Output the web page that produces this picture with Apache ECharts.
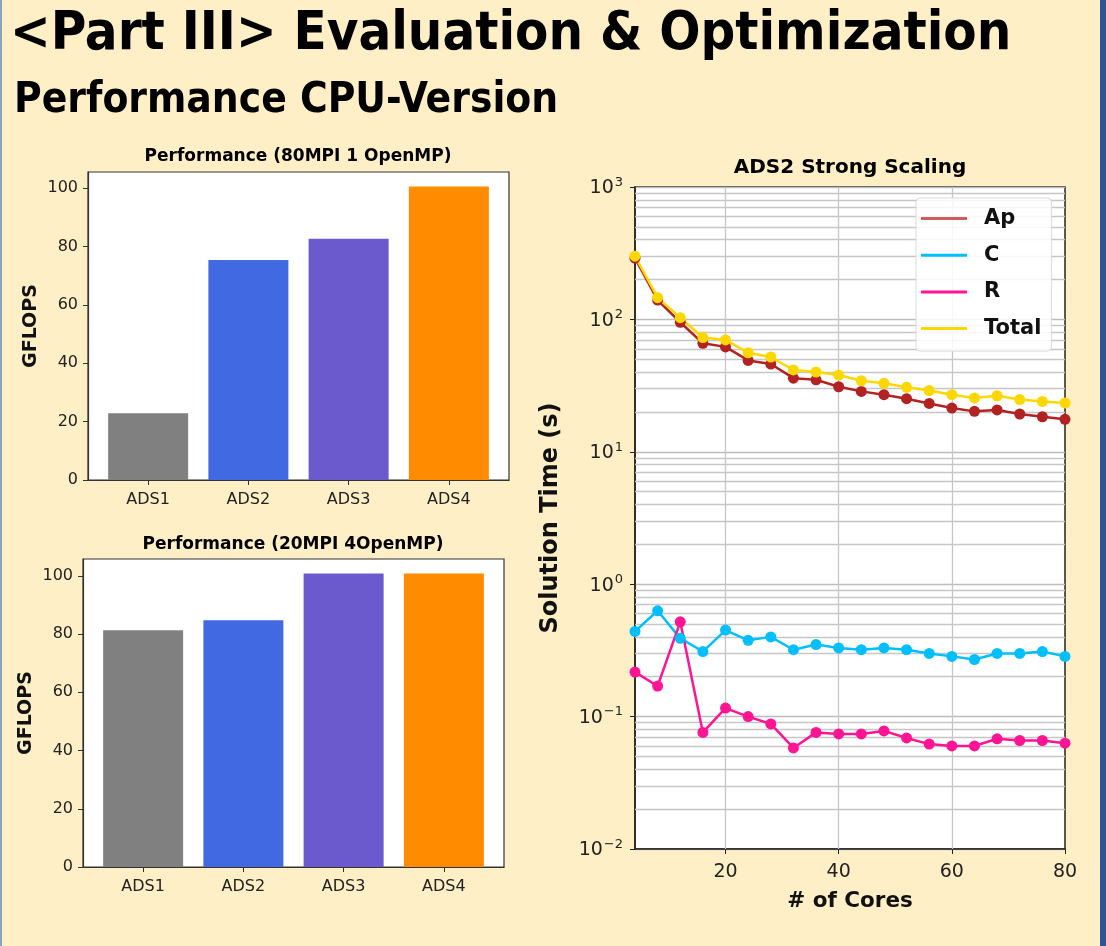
<!DOCTYPE html>
<html>
<head>
<meta charset="utf-8">
<title>Performance CPU-Version</title>
<script src="https://cdn.jsdelivr.net/npm/echarts@6/dist/echarts.min.js"></script>
<style>
  html, body { margin: 0; padding: 0; background: #FFEFC6; }
  #slide { position: relative; width: 1106px; height: 946px; background: #FFEFC6; overflow: hidden; }
  #chart { position: absolute; left: 0; top: 0; width: 1106px; height: 946px; }
  #edgeL { position: absolute; left: 0; top: 0; width: 2px; height: 946px; background: #8EA0BE; }
  #edgeR { position: absolute; right: 0; top: 0; width: 6px; height: 946px; background: #2F5597; }
</style>
</head>
<body>
<div id="slide">
  <div id="chart"></div>
  <div id="edgeL"></div>
  <div id="edgeR"></div>
</div>
<script>
// bar charts
const datasets = ['ADS1', 'ADS2', 'ADS3', 'ADS4'];
const gflops80x1 = [22.9, 75.4, 82.7, 100.6];
const gflops20x4 = [81.3, 84.8, 100.8, 100.8];
const gflopsTicks = [0, 20, 40, 60, 80, 100];
const barColors = ['#808080', '#4169e1', '#6a5acd', '#ff8c00'];

// strong scaling (seconds)
const cores = [4, 8, 12, 16, 20, 24, 28, 32, 36, 40, 44, 48, 52, 56, 60, 64, 68, 72, 76, 80];
const timeAp = [290, 140, 95, 66, 62, 49, 46, 36, 35, 31, 28.6, 27, 25.2, 23.2, 21.4, 20.2, 20.7, 19.3, 18.4, 17.6];
const timeC = [0.44, 0.63, 0.39, 0.31, 0.45, 0.377, 0.40, 0.32, 0.35, 0.33, 0.32, 0.33, 0.32, 0.30, 0.285, 0.27, 0.30, 0.30, 0.31, 0.285];
const timeR = [0.217, 0.17, 0.52, 0.076, 0.116, 0.10, 0.088, 0.058, 0.076, 0.074, 0.074, 0.078, 0.069, 0.062, 0.060, 0.060, 0.068, 0.066, 0.066, 0.063];
const timeTotal = [300, 146, 103, 73, 70, 56, 52, 41.5, 40, 38, 34.4, 32.9, 30.7, 29, 27, 25.5, 26.5, 24.8, 24, 23.4];
const coreTicks = [20, 40, 60, 80];

const FONT = 'DejaVu Sans';
const TITLE_FONT = "'DejaVu Sans Condensed', 'DejaVu Sans'";

// minor log grid lines 2..9 x 10^k
const minorLines = [];
for (let k = -2; k <= 2; k++) {
  for (let m = 2; m <= 9; m++) minorLines.push({ yAxis: m * Math.pow(10, k) });
}

const supMinus = n => (n < 0 ? '\u2212' + (-n) : '' + n);

const myChart = echarts.init(document.getElementById('chart'));

function barXAxis(idx) {
  return {
    gridIndex: idx,
    type: 'value',
    min: -0.6,
    max: 3.6,
    axisLine: { show: true, onZero: false, lineStyle: { color: '#333', width: 1.2 } },
    axisTick: { show: true, customValues: [0, 1, 2, 3], length: 5, lineStyle: { color: '#333' } },
    axisLabel: {
      customValues: [0, 1, 2, 3],
      formatter: v => datasets[v],
      fontSize: 16, color: '#222', margin: 12, fontFamily: FONT
    },
    splitLine: { show: false }
  };
}

function barYAxis(idx, max) {
  return {
    gridIndex: idx,
    type: 'value',
    min: 0,
    max: max,
    name: 'GFLOPS',
    nameLocation: 'middle',
    nameRotate: 90,
    nameGap: 47,
    nameTextStyle: { fontSize: 19, fontWeight: 'bold', color: '#111', fontFamily: FONT },
    axisLine: { show: true, onZero: false, lineStyle: { color: '#333', width: 1.2 } },
    axisTick: { show: true, customValues: gflopsTicks, length: 5, lineStyle: { color: '#333' } },
    axisLabel: { customValues: gflopsTicks, fontSize: 16, color: '#222', margin: 10, fontFamily: FONT },
    splitLine: { show: false }
  };
}

function barSeries(idx, values) {
  return {
    type: 'bar',
    xAxisIndex: idx,
    yAxisIndex: idx,
    barWidth: 80,
    data: values.map((v, i) => ({ value: [i, v], itemStyle: { color: barColors[i] } }))
  };
}

function lineSeries(name, values, color, extra) {
  return Object.assign({
    name: name,
    type: 'line',
    xAxisIndex: 2,
    yAxisIndex: 2,
    data: cores.map((c, i) => [c, values[i]]),
    symbol: 'circle',
    symbolSize: 11,
    showAllSymbol: true,
    lineStyle: { width: 2.5, color: color },
    itemStyle: { color: color }
  }, extra || {});
}

const titleStyle = { fontSize: 17, fontWeight: 'bold', color: '#000', fontFamily: FONT };

var option = {
  animation: false,
  backgroundColor: '#FFEFC6',
  title: [
    { text: '<Part III> Evaluation & Optimization', left: 10, top: 8, padding: 0,
      textStyle: { fontSize: 54, fontWeight: 'bold', color: '#000', fontFamily: TITLE_FONT } },
    { text: 'Performance CPU-Version', left: 14, top: 80, padding: 0,
      textStyle: { fontSize: 42, fontWeight: 'bold', color: '#000', fontFamily: TITLE_FONT } },
    { text: 'Performance (80MPI 1 OpenMP)', left: 298, top: 148, textAlign: 'center', padding: 0, textStyle: titleStyle },
    { text: 'Performance (20MPI 4OpenMP)', left: 293, top: 536, textAlign: 'center', padding: 0, textStyle: titleStyle },
    { text: 'ADS2 Strong Scaling', left: 850, top: 158, textAlign: 'center', padding: 0,
      textStyle: { fontSize: 20, fontWeight: 'bold', color: '#000', fontFamily: FONT } }
  ],
  legend: {
    orient: 'vertical',
    left: 916,
    top: 198,
    data: [{ name: 'Ap', itemStyle: { color: '#cd5c5c' } }, 'C', 'R', 'Total'],
    icon: 'rect',
    itemWidth: 46,
    itemHeight: 3,
    itemGap: 15.7,
    textStyle: { fontSize: 21, fontWeight: 'bold', color: '#111', fontFamily: FONT, padding: [0, 0, 0, 12] },
    backgroundColor: 'rgba(255,255,255,0.85)',
    borderColor: '#d9d9d9',
    borderWidth: 1,
    borderRadius: 4,
    padding: [10, 10, 12, 5]
  },
  grid: [
    { left: 88, top: 172, width: 421, height: 308, show: true, backgroundColor: '#fff', borderColor: '#333', borderWidth: 1.2 },
    { left: 83, top: 559, width: 421, height: 308, show: true, backgroundColor: '#fff', borderColor: '#333', borderWidth: 1.2 },
    { left: 635, top: 187, width: 430, height: 662, show: true, backgroundColor: '#fff', borderColor: '#222', borderWidth: 1.5 }
  ],
  xAxis: [
    barXAxis(0),
    barXAxis(1),
    {
      gridIndex: 2,
      type: 'value',
      min: 4,
      max: 80,
      name: '# of Cores',
      nameLocation: 'middle',
      nameGap: 41,
      nameTextStyle: { fontSize: 21.5, fontWeight: 'bold', color: '#111', fontFamily: FONT },
      axisLine: { show: true, onZero: false, lineStyle: { color: '#222', width: 1.5 } },
      axisTick: { show: true, customValues: coreTicks, length: 5, lineStyle: { color: '#222' } },
      axisLabel: { customValues: coreTicks, fontSize: 19, color: '#222', margin: 14, fontFamily: FONT },
      splitLine: { show: false }
    }
  ],
  yAxis: [
    barYAxis(0, 105.6),
    barYAxis(1, 105.8),
    {
      gridIndex: 2,
      type: 'log',
      logBase: 10,
      min: 0.01,
      max: 1000,
      name: 'Solution Time (s)',
      nameLocation: 'middle',
      nameRotate: 90,
      nameGap: 72,
      nameTextStyle: { fontSize: 24, fontWeight: 'bold', color: '#111', fontFamily: FONT },
      axisLine: { show: true, onZero: false, lineStyle: { color: '#222', width: 1.5 } },
      axisTick: { show: true, length: 5, lineStyle: { color: '#222' } },
      axisLabel: {
        margin: 12,
        formatter: v => '{b|10}{e|' + supMinus(Math.round(Math.log10(v))) + '}',
        rich: {
          b: { fontSize: 19, color: '#222', fontFamily: FONT, verticalAlign: 'bottom', lineHeight: 22 },
          e: { fontSize: 13, color: '#222', fontFamily: FONT, verticalAlign: 'top', lineHeight: 13, padding: [0, 0, 13, 1] }
        }
      },
      splitLine: { show: true, lineStyle: { color: '#bdbdbd', width: 1.3 } }
    }
  ],
  series: [
    barSeries(0, gflops80x1),
    barSeries(1, gflops20x4),
    lineSeries('Ap', timeAp, '#b22222', {
      markLine: {
        silent: true,
        symbol: 'none',
        z: 1,
        animation: false,
        label: { show: false },
        lineStyle: { color: '#c6c6c6', width: 1.3, type: 'solid' },
        data: minorLines.concat([{ xAxis: 20 }, { xAxis: 40 }, { xAxis: 60 }])
      }
    }),
    lineSeries('C', timeC, '#00bfff'),
    lineSeries('R', timeR, '#ff1493'),
    lineSeries('Total', timeTotal, '#ffd700')
  ]
};

myChart.setOption(option);
</script>
</body>
</html>
